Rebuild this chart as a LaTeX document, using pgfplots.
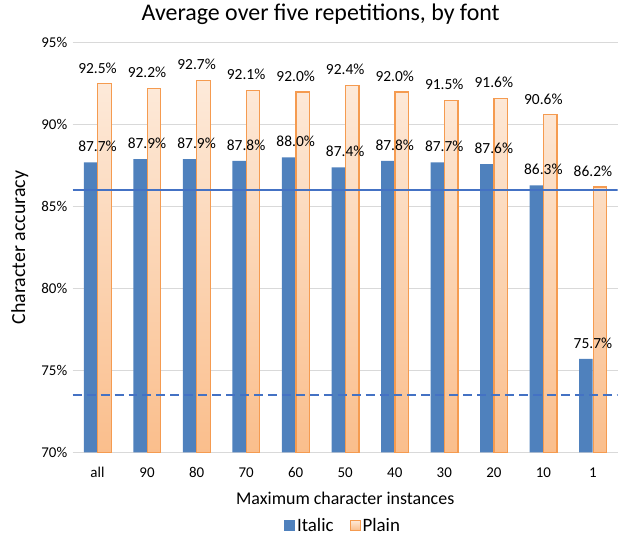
\documentclass[border=0pt]{standalone}
\usepackage{pgfplots}
\pgfplotsset{compat=1.18}
\usepackage{fontspec}
\setmainfont{Carlito}
\definecolor{italicblue}{RGB}{79,129,189}
\definecolor{linblue}{RGB}{68,114,196}
\definecolor{plainedge}{RGB}{245,155,80}
\definecolor{plaintop}{RGB}{253,234,218}
\definecolor{plainbot}{RGB}{250,190,140}
\definecolor{gridgray}{RGB}{217,217,217}
\begin{document}
\begin{tikzpicture}
\begin{axis}[
  scale only axis, width=547pt, height=411pt,
  xmin=-0.5, xmax=10.5, ymin=70, ymax=95,
  xtick={0,...,10},
  xticklabels={all,90,80,70,60,50,40,30,20,10,1},
  ytick={70,75,...,95},
  yticklabel={\pgfmathprintnumber{\tick}\%},
  ymajorgrids, major grid style={gridgray, line width=1pt},
  axis line style={draw=none},
  major tick length=0pt,
  /pgf/number format/assume math mode=true,
  tick label style={font=\fontsize{15}{18}\selectfont, text=black},
  xticklabel style={anchor=center, yshift=-20pt},
  yticklabel style={anchor=east, xshift=-2pt},
  title={Average over five repetitions, by font},
  title style={at={(axis description cs:0.455,1.056)}, anchor=center, font=\fontsize{24}{28}\selectfont},
  xlabel={Maximum character instances},
  xlabel style={at={(axis description cs:0.5,-0.112)}, anchor=center, font=\fontsize{18}{22}\selectfont},
  ylabel={Character accuracy},
  ylabel style={at={(axis description cs:-0.0969,0.5)}, anchor=center, font=\fontsize{20}{24}\selectfont},
  legend style={draw=none, fill=none, at={(axis description cs:0.496,-0.178)}, anchor=center,
    legend columns=2, font=\fontsize{19}{21}\selectfont,
    /tikz/every even column/.append style={column sep=14pt},
    inner sep=0pt, outer sep=0pt},
  legend cell align=left,
  point meta=y,
  nodes near coords={\pgfmathprintnumber[fixed,fixed zerofill,precision=1]{\pgfplotspointmeta}\%},
  every node near coord/.append style={font=\fontsize{15.5}{17}\selectfont, text=black, anchor=center, yshift=16pt},
]
\addplot[ybar, bar width=13.5pt, bar shift=-7pt, fill=italicblue, draw=none,
  legend image code/.code={\fill[italicblue] (0pt,-5.5pt) rectangle (11pt,5.5pt);}]
  coordinates {(0,87.7) (1,87.9) (2,87.9) (3,87.8) (4,88.0) (5,87.4) (6,87.8) (7,87.7) (8,87.6) (9,86.3) (10,75.7)};
\addlegendentry{Italic}
\addplot[ybar, bar width=13.5pt, bar shift=7pt, top color=plaintop, bottom color=plainbot, draw=plainedge, line width=1.2pt,
  legend image code/.code={\draw[top color=plaintop, bottom color=plainbot, draw=plainedge, line width=1pt] (0.5pt,-5pt) rectangle (10.5pt,5pt);}]
  coordinates {(0,92.5) (1,92.2) (2,92.7) (3,92.1) (4,92.0) (5,92.4) (6,92.0) (7,91.5) (8,91.6) (9,90.6) (10,86.2)};
\addlegendentry{Plain}
\addplot[linblue, line width=1.5pt, forget plot, nodes near coords={}] coordinates {(-0.5,86.0) (10.5,86.0)};
\addplot[linblue, line width=1.5pt, dash pattern=on 9pt off 5pt, forget plot, nodes near coords={}] coordinates {(-0.5,73.5) (10.5,73.5)};
\coordinate (ll) at (rel axis cs:0,0);
\end{axis}
\path (ll) ++(-73pt,-83pt) rectangle ++(621pt,537pt);
\end{tikzpicture}
\end{document}
